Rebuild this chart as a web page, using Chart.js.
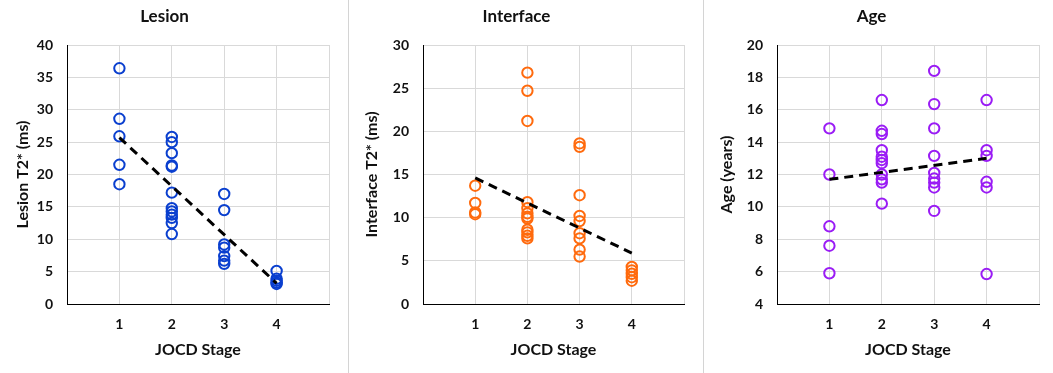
<!DOCTYPE html>
<html>
<head>
<meta charset="utf-8">
<script src="https://cdn.jsdelivr.net/npm/chart.js@4"></script>
<style>
  html, body { margin: 0; padding: 0; background: #fff; }
  .row { display: flex; width: 1053px; height: 373px; }
  .panel { height: 373px; }
  .panel.sep { border-right: 1px solid #d4d4d4; }
</style>
</head>
<body>
<div class="row">
  <div class="panel sep"><canvas id="lesionChart" width="348" height="373"></canvas></div>
  <div class="panel sep"><canvas id="interfaceChart" width="354" height="373"></canvas></div>
  <div class="panel"><canvas id="ageChart" width="349" height="373"></canvas></div>
</div>
<script>
// stages on the x axis
const stages = [1, 2, 3, 4];
const stageLabels = ["1", "2", "3", "4"];

// Lesion T2* (ms), one list per stage
const lesionT2 = [
    [36.4, 28.6, 25.9, 21.5, 18.5],
    [25.8, 25.0, 23.3, 21.4, 21.2, 17.2, 14.8, 14.3, 13.8, 13.3, 12.5, 10.8],
    [17.0, 14.5, 9.2, 8.7, 7.4, 6.7, 6.2],
    [5.1, 3.9, 3.6, 3.3, 3.1]
];
const lesionTrend = [25.7, 3.2];

// Interface T2* (ms)
const interfaceT2 = [
    [13.7, 11.7, 10.6, 10.4],
    [26.8, 24.7, 21.2, 11.8, 11.1, 10.5, 10.1, 9.9, 8.6, 8.3, 7.9, 7.6],
    [18.6, 18.2, 12.6, 10.2, 9.6, 8.2, 7.6, 6.3, 5.5],
    [4.3, 3.9, 3.5, 3.1, 2.7]
];
const interfaceTrend = [14.6, 5.9];

// Age (years)
const ageYears = [
    [14.85, 12.0, 8.8, 7.6, 5.9],
    [16.6, 14.7, 14.5, 13.5, 13.1, 12.9, 12.7, 12.0, 11.7, 11.5, 10.2],
    [18.4, 16.35, 14.85, 13.15, 12.1, 11.75, 11.5, 11.2, 9.75],
    [16.6, 13.5, 13.15, 11.55, 11.2, 5.85]
];
const ageTrend = [11.7, 13.0];

const FONT = "Lato, 'Liberation Sans', sans-serif";
const TEXT = "#111";
const GRID = "#d9d9d9";

function makeChart(id, opts) {

    let points = [];
    opts.groups.forEach((vals, i) => {
        vals.forEach(v => points.push({ x: stages[i], y: v }));
    });

    let trendPts = [
        { x: stages[0], y: opts.trend[0] },
        { x: stages[stages.length - 1], y: opts.trend[1] }
    ];

    new Chart(document.getElementById(id), {
        type: "scatter",
        data: {
            datasets: [{
                type: "line",
                data: trendPts,
                borderColor: "#000",
                borderWidth: 3,
                borderDash: [9, 6],
                pointRadius: 0,
                fill: false,
                order: 0
            }, {
                data: points,
                borderColor: opts.color,
                backgroundColor: "rgba(0,0,0,0)",
                borderWidth: 2,
                pointRadius: 5.2,
                pointHoverRadius: 5.2,
                order: 1
            }]
        },
        options: {
            responsive: false,
            animation: false,
            events: [],
            layout: {
                padding: { left: 0, right: opts.rightPad, top: 0, bottom: 0 }
            },
            plugins: {
                legend: { display: false },
                tooltip: { enabled: false },
                title: {
                    display: true,
                    text: opts.title,
                    color: TEXT,
                    font: { family: FONT, size: 17, weight: "bold", lineHeight: 1.2 },
                    padding: { top: 6, bottom: 18.6 }
                }
            },
            scales: {
                x: {
                    type: "linear",
                    min: 0,
                    max: 5,
                    afterFit: s => { s.height = 69; },
                    ticks: {
                        stepSize: 1,
                        color: TEXT,
                        padding: 12,
                        font: { family: FONT, size: 14, weight: "bold" },
                        callback: v => {
                            let i = stages.indexOf(v);
                            return i >= 0 ? stageLabels[i] : "";
                        }
                    },
                    grid: { color: GRID, drawTicks: false },
                    border: { color: "#000", width: 1 },
                    title: {
                        display: true,
                        text: "JOCD Stage",
                        color: TEXT,
                        font: { family: FONT, size: 16, weight: "bold", lineHeight: 1.2 },
                        padding: { top: 0, bottom: 13.4 }
                    }
                },
                y: {
                    min: opts.min,
                    max: opts.max,
                    afterFit: s => { s.width = opts.yWidth; },
                    ticks: {
                        stepSize: opts.step,
                        color: TEXT,
                        padding: 14,
                        font: { family: FONT, size: 14, weight: "bold" }
                    },
                    grid: { color: GRID, drawTicks: false },
                    border: { color: "#000", width: 1 },
                    title: {
                        display: true,
                        text: opts.yTitle,
                        color: TEXT,
                        font: { family: FONT, size: 16, weight: "bold", lineHeight: 1.2 },
                        padding: { top: 13.4, bottom: 0 }
                    }
                }
            }
        }
    });
}

makeChart("lesionChart", {
    title: "Lesion", yTitle: "Lesion T2* (ms)",
    min: 0, max: 40, step: 5, color: "#0a3fcf",
    groups: lesionT2, trend: lesionTrend,
    yWidth: 67, rightPad: 19
});

makeChart("interfaceChart", {
    title: "Interface", yTitle: "Interface T2* (ms)",
    min: 0, max: 30, step: 5, color: "#ff6a0d",
    groups: interfaceT2, trend: interfaceTrend,
    yWidth: 74, rightPad: 19
});

makeChart("ageChart", {
    title: "Age", yTitle: "Age (years)",
    min: 4, max: 20, step: 2, color: "#9a1cf5",
    groups: ageYears, trend: ageTrend,
    yWidth: 73, rightPad: 14
});
</script>
</body>
</html>
